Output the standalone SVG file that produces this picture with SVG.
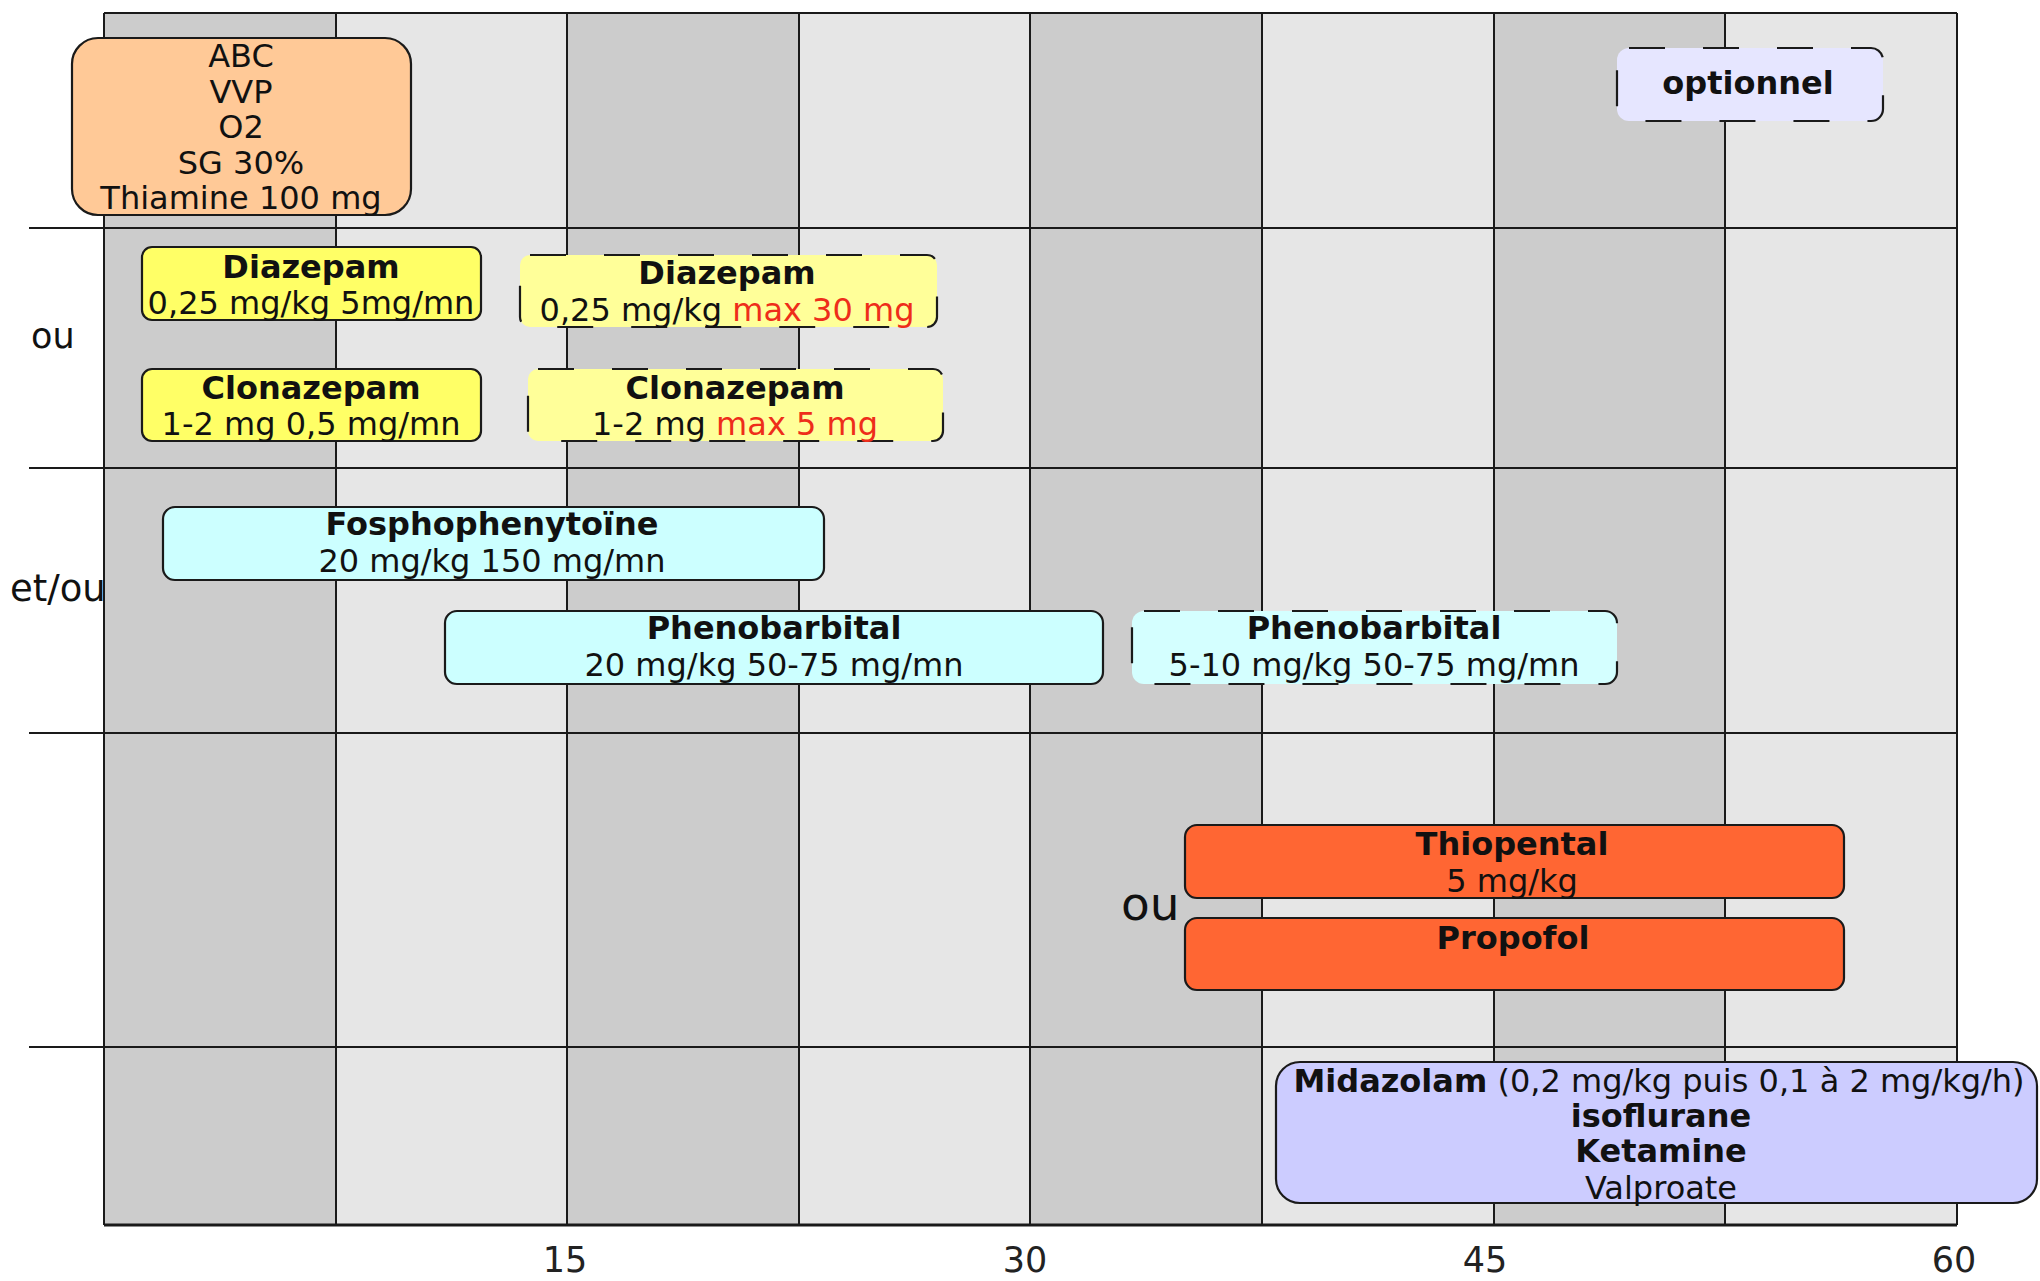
<svg xmlns="http://www.w3.org/2000/svg" width="2040" height="1281" viewBox="0 0 2040 1281">
<style>
.dk{fill:#cccccc}
.lt{fill:#e6e6e6}
.gl{stroke:#1a1a1a;stroke-width:2;fill:none}
.box{stroke:#1a1a1a;stroke-width:2.2}
.dash{stroke-dasharray:36 38}
text{font-family:"DejaVu Sans","Liberation Sans",sans-serif;fill:#111}
.t{font-size:32px;text-anchor:middle}
.b{font-weight:bold}
.r{fill:#ee2d1a}
.lbl{font-size:35px}
.ax{font-size:35px;text-anchor:middle;fill:#222}
</style>
<rect x="0" y="0" width="2040" height="1281" fill="#ffffff"/>
<g id="grid">
<rect class="dk" x="104" y="13" width="232" height="1212"/>
<rect class="lt" x="336" y="13" width="231" height="1212"/>
<rect class="dk" x="567" y="13" width="232" height="1212"/>
<rect class="lt" x="799" y="13" width="231" height="1212"/>
<rect class="dk" x="1030" y="13" width="232" height="1212"/>
<rect class="lt" x="1262" y="13" width="232" height="1212"/>
<rect class="dk" x="1494" y="13" width="231" height="1212"/>
<rect class="lt" x="1725" y="13" width="232" height="1212"/>
<path class="gl" d="M104 13V1225M336 13V1225M567 13V1225M799 13V1225M1030 13V1225M1262 13V1225M1494 13V1225M1725 13V1225M1957 13V1225"/>
<path class="gl" d="M104 13H1957M29 228H1957M29 468H1957M29 733H1957M29 1047H1957"/>
<path d="M104 1225H1957" stroke="#1a1a1a" stroke-width="3"/>
</g>
<g id="labels">
<text class="lbl" x="31" y="348">ou</text>
<text class="lbl" x="10" y="601" style="font-size:37px">et/ou</text>
<text class="lbl" x="1121" y="920" style="font-size:47px">ou</text>
<text class="ax" x="565" y="1272">15</text>
<text class="ax" x="1025" y="1272">30</text>
<text class="ax" x="1485" y="1272">45</text>
<text class="ax" x="1954" y="1272">60</text>
</g>
<g id="connectors"></g>
<g id="abc">
<rect class="box" x="72" y="38" width="339" height="177" rx="26" fill="#ffc997"/>
<text class="t" x="241" y="67">ABC</text>
<text class="t" x="241" y="102.5">VVP</text>
<text class="t" x="241" y="138">O2</text>
<text class="t" x="241" y="173.5">SG 30%</text>
<text class="t" x="241" y="209">Thiamine 100 mg</text>
</g>
<g id="optionnel">
<rect class="box dash" x="1617" y="48" width="266" height="73" rx="12" fill="#e6e6ff"/>
<text class="t b" x="1748" y="94">optionnel</text>
</g>
<g id="diazepam1">
<rect class="box" x="142" y="247" width="339" height="73" rx="10" fill="#ffff66"/>
<text class="t b" x="311" y="278">Diazepam</text>
<text class="t" x="311" y="314">0,25 mg/kg 5mg/mn</text>
</g>
<g id="diazepam2">
<rect class="box dash" x="520" y="255" width="417" height="72" rx="10" fill="#ffff99"/>
<text class="t b" x="727" y="284">Diazepam</text>
<text class="t" x="727" y="321">0,25 mg/kg <tspan class="r">max 30 mg</tspan></text>
</g>
<g id="clonazepam1">
<rect class="box" x="142" y="369" width="339" height="72" rx="10" fill="#ffff66"/>
<text class="t b" x="311" y="399">Clonazepam</text>
<text class="t" x="311" y="435">1-2 mg 0,5 mg/mn</text>
</g>
<g id="clonazepam2">
<rect class="box dash" x="528" y="369" width="415" height="72" rx="10" fill="#ffff99"/>
<text class="t b" x="735" y="399">Clonazepam</text>
<text class="t" x="735" y="435">1-2 mg <tspan class="r">max 5 mg</tspan></text>
</g>
<g id="fosphenytoine">
<rect class="box" x="163" y="507" width="661" height="73" rx="12" fill="#ccffff"/>
<text class="t b" x="492" y="535">Fosphophenytoïne</text>
<text class="t" x="492" y="572">20 mg/kg 150 mg/mn</text>
</g>
<g id="phenobarbital1">
<rect class="box" x="445" y="611" width="658" height="73" rx="12" fill="#ccffff"/>
<text class="t b" x="774" y="639">Phenobarbital</text>
<text class="t" x="774" y="676">20 mg/kg 50-75 mg/mn</text>
</g>
<g id="phenobarbital2">
<rect class="box dash" x="1132" y="611" width="485" height="73" rx="12" fill="#d4ffff"/>
<text class="t b" x="1374" y="639">Phenobarbital</text>
<text class="t" x="1374" y="676">5-10 mg/kg 50-75 mg/mn</text>
</g>
<g id="thiopental">
<rect class="box" x="1185" y="825" width="659" height="73" rx="12" fill="#ff6633"/>
<text class="t b" x="1512" y="855">Thiopental</text>
<text class="t" x="1512" y="892">5 mg/kg</text>
</g>
<g id="propofol">
<rect class="box" x="1185" y="918" width="659" height="72" rx="12" fill="#ff6633"/>
<text class="t b" x="1513" y="949">Propofol</text>
</g>
<g id="midazolam">
<rect class="box" x="1276" y="1062" width="761" height="141" rx="24" fill="#ccccff"/>
<text class="t" x="1659" y="1092"><tspan class="b">Midazolam</tspan> (0,2 mg/kg puis 0,1 à 2 mg/kg/h)</text>
<text class="t b" x="1661" y="1127">isoflurane</text>
<text class="t b" x="1661" y="1162">Ketamine</text>
<text class="t" x="1661" y="1199">Valproate</text>
</g>
</svg>
